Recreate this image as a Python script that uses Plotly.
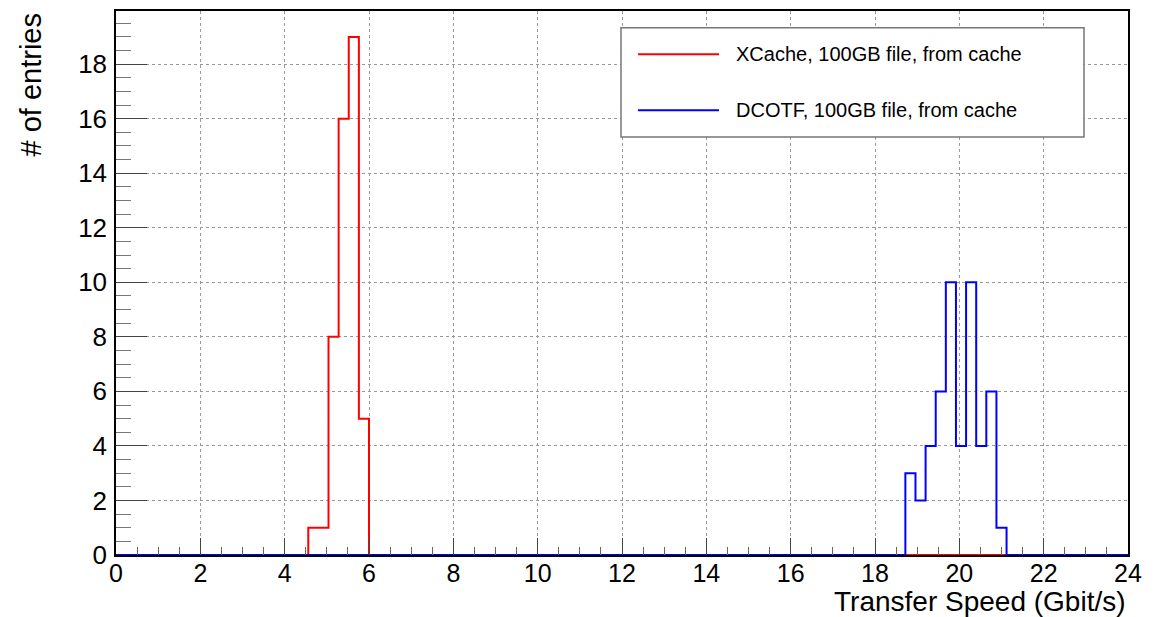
import numpy as np
import plotly.graph_objects as go

# Histogram definition (100 bins from 0 to 24 Gbit/s)
x_min, x_max, n_bins = 0.0, 24.0, 100

# XCache, 100GB file, from cache
xcache_first_bin = 19          # bin starting at 4.56
xcache_counts = [1, 1, 8, 16, 19, 5]

# DCOTF, 100GB file, from cache
dcotf_first_bin = 78           # bin starting at 18.72
dcotf_counts = [3, 2, 4, 6, 10, 4, 10, 4, 6, 1]

series_names = ["XCache, 100GB file, from cache", "DCOTF, 100GB file, from cache"]
series_colors = ["#ff0000", "#0000ff"]

x_ticks = list(range(0, 25, 2))
y_ticks = list(range(0, 19, 2))

edges = np.linspace(x_min, x_max, n_bins + 1)


def full_hist(first_bin, counts):
    h = np.zeros(n_bins)
    h[first_bin:first_bin + len(counts)] = counts
    return h


hists = [full_hist(xcache_first_bin, xcache_counts), full_hist(dcotf_first_bin, dcotf_counts)]

fig = go.Figure()
for h, name, col in zip(hists, series_names, series_colors):
    xs = list(edges)
    ys = list(h) + [h[-1]]
    fig.add_trace(go.Scatter(x=xs, y=ys, mode="lines", line=dict(shape="hv", color=col, width=2),
                             name=name, showlegend=False, hoverinfo="skip"))

font_family = "Liberation Sans, Arial, Helvetica, sans-serif"

fig.update_layout(
    width=1161, height=617,
    margin=dict(l=116, r=33, t=9, b=62),
    paper_bgcolor="white", plot_bgcolor="white",
    font=dict(family=font_family, size=26, color="black"),
    showlegend=False,
)

fig.update_xaxes(
    range=[x_min, x_max], tickvals=x_ticks, ticktext=[str(v) for v in x_ticks],
    showline=True, linecolor="black", linewidth=1.5, mirror=True,
    ticks="inside", ticklen=17, tickcolor="#444", tickwidth=1,
    minor=dict(dtick=0.5, ticks="inside", ticklen=8, tickcolor="#666", tickwidth=1, showgrid=False),
    showgrid=True, gridcolor="#999", griddash="dot", gridwidth=1,
    zeroline=False, tickfont=dict(size=25), ticklabelstandoff=-5,
)
fig.update_yaxes(
    range=[0, 19.95], tickvals=y_ticks, ticktext=[str(v) for v in y_ticks],
    showline=True, linecolor="black", linewidth=1.5, mirror=True,
    ticks="inside", ticklen=31, tickcolor="#444", tickwidth=1,
    minor=dict(dtick=0.5, ticks="inside", ticklen=15, tickcolor="#777", tickwidth=1, showgrid=False),
    showgrid=True, gridcolor="#999", griddash="dot", gridwidth=1,
    zeroline=False, tickfont=dict(size=26), ticklabelstandoff=2,
)

# Axis titles (ROOT style: right / top aligned)
fig.add_annotation(text="Transfer Speed (Gbit/s)", xref="paper", yref="paper", x=1.0, y=0,
                   xanchor="right", yanchor="top", yshift=-29, showarrow=False,
                   font=dict(size=28, family=font_family))
fig.add_annotation(text="# of entries", xref="paper", yref="paper", x=0, y=1.0,
                   xanchor="center", yanchor="top", xshift=-86, yshift=-1, textangle=-90,
                   showarrow=False, font=dict(size=29, family=font_family))

# Legend box (ROOT TLegend style)
fig.add_shape(type="rect", xref="x", yref="y", x0=11.976, x1=22.956, y0=15.33, y1=19.34,
              line=dict(color="#777", width=1.5), fillcolor="white", layer="above")
leg_y = [18.36, 16.31]
for yy, name, col in zip(leg_y, series_names, series_colors):
    fig.add_shape(type="line", xref="x", yref="y", x0=12.38, x1=14.30, y0=yy, y1=yy,
                  line=dict(color=col, width=2), layer="above")
    fig.add_annotation(text=name, xref="x", yref="y", x=14.65, y=yy, xanchor="left",
                       yanchor="middle", showarrow=False, font=dict(size=20, family=font_family))

fig.write_html("out.html", config={"displayModeBar": False},
               post_script="document.body.style.margin='0';document.body.style.padding='0';")
